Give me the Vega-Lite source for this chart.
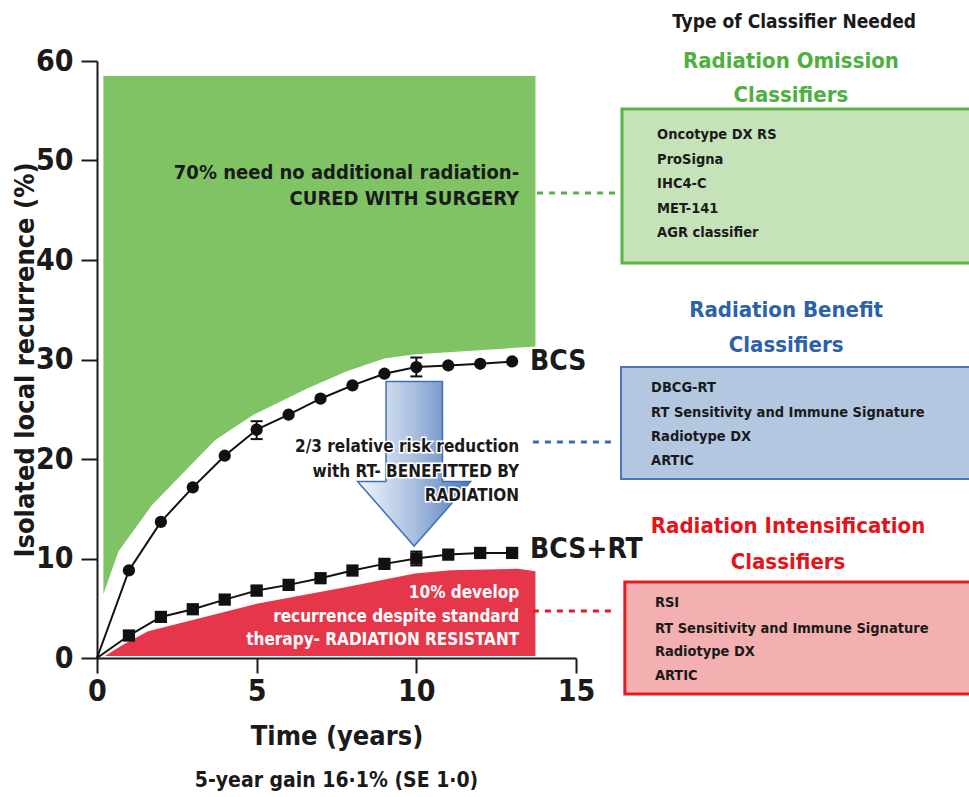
{
  "$schema": "https://vega.github.io/schema/vega-lite/v6.json",
  "autosize": {"type": "none"},
  "width": 479,
  "height": 597,
  "padding": {"left": 97, "top": 61, "right": 393, "bottom": 139},
  "background": "white",
  "config": {
    "view": {"stroke": null},
    "font": "DejaVu Sans Condensed",
    "text": {"font": "DejaVu Sans Condensed", "fontWeight": "bold"},
    "axisX": {"labelFontSize": 30, "labelFont": "DejaVu Sans Condensed", "labelFontWeight": "bold", "labelColor": "#1a1a1a", "tickSize": 15, "tickWidth": 2, "tickColor": "#1a1a1a", "domainColor": "#1a1a1a", "domainWidth": 2, "labelPadding": 3, "titleFont": "DejaVu Sans Condensed", "titleFontSize": 27, "titleFontWeight": "bold", "titleColor": "#1a1a1a", "titlePadding": 17, "grid": false, "labelFlush": false},
    "axisY": {"labelFontSize": 30, "labelFont": "DejaVu Sans Condensed", "labelFontWeight": "bold", "labelColor": "#1a1a1a", "tickSize": 16, "tickWidth": 2, "tickColor": "#1a1a1a", "domainColor": "#1a1a1a", "domainWidth": 2, "labelPadding": 8, "titleFont": "DejaVu Sans Condensed", "titleFontSize": 27, "titleFontWeight": "bold", "titleColor": "#1a1a1a", "titlePadding": -4, "grid": false, "labelFlush": false}
  },
  "layer": [
    {
      "data": {"values": [
        {"x": 0.2, "y": 58.5, "y2": 6.4},
        {"x": 0.67, "y": 58.5, "y2": 10.7},
        {"x": 1.73, "y": 58.5, "y2": 15.4},
        {"x": 3.7, "y": 58.5, "y2": 21.9},
        {"x": 4.9, "y": 58.5, "y2": 24.45},
        {"x": 6.6, "y": 58.5, "y2": 27.1},
        {"x": 7.8, "y": 58.5, "y2": 28.8},
        {"x": 9.0, "y": 58.5, "y2": 30.1},
        {"x": 9.9, "y": 58.5, "y2": 30.5},
        {"x": 13.73, "y": 58.5, "y2": 31.3}
      ]},
      "mark": {"type": "area", "color": "#7fc365"},
      "encoding": {
        "x": {"field": "x", "type": "quantitative", "scale": {"domain": [0, 15], "nice": false}, "axis": {"values": [0, 5, 10, 15], "title": "Time (years)"}},
        "y": {"field": "y", "type": "quantitative", "scale": {"domain": [0, 60], "nice": false}, "axis": {"values": [0, 10, 20, 30, 40, 50, 60], "title": "Isolated local recurrence (%)"}},
        "y2": {"field": "y2"}
      }
    },
    {
      "data": {"values": [
        {"x": 0.25, "y": 0.2, "y2": 0.2},
        {"x": 0.8, "y": 1.3, "y2": 0.2},
        {"x": 1.6, "y": 2.7, "y2": 0.2},
        {"x": 5.0, "y": 5.44, "y2": 0.2},
        {"x": 7.86, "y": 7.15, "y2": 0.2},
        {"x": 9.96, "y": 8.49, "y2": 0.2},
        {"x": 11.07, "y": 8.82, "y2": 0.2},
        {"x": 13.18, "y": 8.96, "y2": 0.2},
        {"x": 13.73, "y": 8.72, "y2": 0.2}
      ]},
      "mark": {"type": "area", "color": "#e63649"},
      "encoding": {
        "x": {"field": "x", "type": "quantitative"},
        "y": {"field": "y", "type": "quantitative"},
        "y2": {"field": "y2"}
      }
    },
    {
      "data": {"values": [
        {"x": 8.16, "y": 17.75, "y2": 17.75},
        {"x": 9.05, "y": 17.75, "y2": 14.48},
        {"x": 9.052, "y": 27.8, "y2": 14.47},
        {"x": 9.93, "y": 27.8, "y2": 11.25},
        {"x": 10.818, "y": 27.8, "y2": 14.47},
        {"x": 10.82, "y": 17.75, "y2": 14.48},
        {"x": 11.7, "y": 17.75, "y2": 17.75}
      ]},
      "mark": {"type": "area", "fill": {"gradient": "linear", "x1": 0, "y1": 0, "x2": 1, "y2": 0, "stops": [{"offset": 0, "color": "#f2f5fb"}, {"offset": 0.5, "color": "#a9bfdf"}, {"offset": 1, "color": "#4a78ba"}]}, "fillOpacity": 1, "stroke": "#3f6fb5", "strokeWidth": 1.5},
      "encoding": {
        "x": {"field": "x", "type": "quantitative"},
        "y": {"field": "y", "type": "quantitative"},
        "y2": {"field": "y2"}
      }
    },
    {
      "data": {"values": [
        {"x": 0, "y": 0}, {"x": 1, "y": 8.8}, {"x": 2, "y": 13.68}, {"x": 3, "y": 17.15}, {"x": 4, "y": 20.33},
        {"x": 5, "y": 22.95}, {"x": 6, "y": 24.45}, {"x": 7, "y": 26.06}, {"x": 8, "y": 27.4}, {"x": 9, "y": 28.57},
        {"x": 10, "y": 29.24}, {"x": 11, "y": 29.4}, {"x": 12, "y": 29.57}, {"x": 13, "y": 29.8}
      ]},
      "layer": [
        {"mark": {"type": "line", "color": "#111111", "strokeWidth": 2}, "encoding": {"x": {"field": "x", "type": "quantitative"}, "y": {"field": "y", "type": "quantitative"}}},
        {"transform": [{"filter": "datum.x > 0"}], "mark": {"type": "point", "shape": "circle", "filled": true, "opacity": 1, "color": "#111111", "size": 150}, "encoding": {"x": {"field": "x", "type": "quantitative"}, "y": {"field": "y", "type": "quantitative"}}}
      ]
    },
    {
      "data": {"values": [
        {"x": 0, "y": 0}, {"x": 1, "y": 2.26}, {"x": 2, "y": 4.13}, {"x": 3, "y": 4.9}, {"x": 4, "y": 5.87},
        {"x": 5, "y": 6.78}, {"x": 6, "y": 7.35}, {"x": 7, "y": 8.02}, {"x": 8, "y": 8.79}, {"x": 9, "y": 9.46},
        {"x": 10, "y": 10.0}, {"x": 11, "y": 10.39}, {"x": 12, "y": 10.56}, {"x": 13, "y": 10.56}
      ]},
      "layer": [
        {"mark": {"type": "line", "color": "#111111", "strokeWidth": 2}, "encoding": {"x": {"field": "x", "type": "quantitative"}, "y": {"field": "y", "type": "quantitative"}}},
        {"transform": [{"filter": "datum.x > 0"}], "mark": {"type": "point", "shape": "square", "filled": true, "opacity": 1, "color": "#111111", "size": 150}, "encoding": {"x": {"field": "x", "type": "quantitative"}, "y": {"field": "y", "type": "quantitative"}}}
      ]
    },
    {
      "data": {"values": [
        {"x": 5, "lo": 22.0, "hi": 23.8},
        {"x": 10, "lo": 28.3, "hi": 30.2},
        {"x": 5, "lo": 6.3, "hi": 7.2},
        {"x": 10, "lo": 9.3, "hi": 10.7}
      ]},
      "layer": [
        {"mark": {"type": "rule", "color": "#111111", "strokeWidth": 2}, "encoding": {"x": {"field": "x", "type": "quantitative"}, "y": {"field": "lo", "type": "quantitative"}, "y2": {"field": "hi"}}},
        {"mark": {"type": "tick", "orient": "horizontal", "color": "#111111", "size": 12, "thickness": 2, "opacity": 1}, "encoding": {"x": {"field": "x", "type": "quantitative"}, "y": {"field": "lo", "type": "quantitative"}}},
        {"mark": {"type": "tick", "orient": "horizontal", "color": "#111111", "size": 12, "thickness": 2, "opacity": 1}, "encoding": {"x": {"field": "x", "type": "quantitative"}, "y": {"field": "hi", "type": "quantitative"}}}
      ]
    },
    {
      "data": {"values": [
        {"x": 13.22, "y": 48.74, "text": "70% need no additional radiation-"},
        {"x": 13.22, "y": 46.13, "text": "CURED WITH SURGERY"}
      ]},
      "mark": {"type": "text", "align": "right", "baseline": "middle", "fontSize": 20, "color": "#1a1a1a"},
      "encoding": {"x": {"field": "x", "type": "quantitative"}, "y": {"field": "y", "type": "quantitative"}, "text": {"field": "text"}}
    },
    {
      "data": {"values": [
        {"x": 13.22, "y": 21.21, "text": "2/3 relative risk reduction"},
        {"x": 13.22, "y": 18.69, "text": "with RT- BENEFITTED BY"},
        {"x": 13.22, "y": 16.28, "text": "RADIATION"}
      ]},
      "layer": [
        {"mark": {"type": "text", "align": "right", "baseline": "middle", "fontSize": 17, "color": "white", "stroke": "white", "strokeWidth": 3}, "encoding": {"x": {"field": "x", "type": "quantitative"}, "y": {"field": "y", "type": "quantitative"}, "text": {"field": "text"}}},
        {"mark": {"type": "text", "align": "right", "baseline": "middle", "fontSize": 17, "color": "#1a1a1a"}, "encoding": {"x": {"field": "x", "type": "quantitative"}, "y": {"field": "y", "type": "quantitative"}, "text": {"field": "text"}}}
      ]
    },
    {
      "data": {"values": [
        {"x": 13.22, "y": 6.53, "text": "10% develop"},
        {"x": 13.22, "y": 4.12, "text": "recurrence despite standard"},
        {"x": 13.22, "y": 1.81, "text": "therapy- RADIATION RESISTANT"}
      ]},
      "mark": {"type": "text", "align": "right", "baseline": "middle", "fontSize": 17, "color": "white"},
      "encoding": {"x": {"field": "x", "type": "quantitative"}, "y": {"field": "y", "type": "quantitative"}, "text": {"field": "text"}}
    },
    {
      "data": {"values": [
        {"x": 13.56, "y": 29.75, "text": "BCS"},
        {"x": 13.56, "y": 10.85, "text": "BCS+RT"}
      ]},
      "mark": {"type": "text", "align": "left", "baseline": "middle", "fontSize": 28, "color": "#1a1a1a"},
      "encoding": {"x": {"field": "x", "type": "quantitative"}, "y": {"field": "y", "type": "quantitative"}, "text": {"field": "text"}}
    },
    {
      "data": {"values": [
        {"x": 7.5, "y": -12.4, "text": "5-year gain 16·1% (SE 1·0)"}
      ]},
      "mark": {"type": "text", "align": "center", "baseline": "middle", "fontSize": 21, "color": "#1a1a1a"},
      "encoding": {"x": {"field": "x", "type": "quantitative"}, "y": {"field": "y", "type": "quantitative"}, "text": {"field": "text"}}
    },
    {
      "data": {"values": [
        {"x": 16.44, "x2": 27.5, "y": 55.18, "y2": 39.7, "g": "omission"}
      ]},
      "mark": {"type": "rect", "fill": "#c5e2b9", "stroke": "#5cb345", "strokeWidth": 3},
      "encoding": {"x": {"field": "x", "type": "quantitative"}, "x2": {"field": "x2"}, "y": {"field": "y", "type": "quantitative"}, "y2": {"field": "y2"}}
    },
    {
      "data": {"values": [
        {"x": 16.41, "x2": 27.5, "y": 29.25, "y2": 17.99, "g": "benefit"}
      ]},
      "mark": {"type": "rect", "fill": "#b4c7e1", "stroke": "#4a76b8", "strokeWidth": 2},
      "encoding": {"x": {"field": "x", "type": "quantitative"}, "x2": {"field": "x2"}, "y": {"field": "y", "type": "quantitative"}, "y2": {"field": "y2"}}
    },
    {
      "data": {"values": [
        {"x": 16.53, "x2": 27.5, "y": 7.64, "y2": -3.62, "g": "intensification"}
      ]},
      "mark": {"type": "rect", "fill": "#f4b0b0", "stroke": "#e11b22", "strokeWidth": 3},
      "encoding": {"x": {"field": "x", "type": "quantitative"}, "x2": {"field": "x2"}, "y": {"field": "y", "type": "quantitative"}, "y2": {"field": "y2"}}
    },
    {
      "data": {"values": [{"x": 13.78, "x2": 16.38, "y": 46.73}]},
      "mark": {"type": "rule", "color": "#58b146", "strokeWidth": 3, "strokeDash": [6, 6]},
      "encoding": {"x": {"field": "x", "type": "quantitative"}, "x2": {"field": "x2"}, "y": {"field": "y", "type": "quantitative"}}
    },
    {
      "data": {"values": [{"x": 13.65, "x2": 16.16, "y": 21.71}]},
      "mark": {"type": "rule", "color": "#3a6cb5", "strokeWidth": 3, "strokeDash": [6, 6]},
      "encoding": {"x": {"field": "x", "type": "quantitative"}, "x2": {"field": "x2"}, "y": {"field": "y", "type": "quantitative"}}
    },
    {
      "data": {"values": [{"x": 13.65, "x2": 16.28, "y": 4.72}]},
      "mark": {"type": "rule", "color": "#e01c24", "strokeWidth": 3, "strokeDash": [6, 6]},
      "encoding": {"x": {"field": "x", "type": "quantitative"}, "x2": {"field": "x2"}, "y": {"field": "y", "type": "quantitative"}}
    },
    {
      "data": {"values": [{"x": 21.83, "y": 63.92, "text": "Type of Classifier Needed"}]},
      "mark": {"type": "text", "align": "center", "baseline": "middle", "fontSize": 19, "color": "#1a1a1a"},
      "encoding": {"x": {"field": "x", "type": "quantitative"}, "y": {"field": "y", "type": "quantitative"}, "text": {"field": "text"}}
    },
    {
      "data": {"values": [
        {"x": 21.73, "y": 60.0, "text": "Radiation Omission"},
        {"x": 21.73, "y": 56.58, "text": "Classifiers"}
      ]},
      "mark": {"type": "text", "align": "center", "baseline": "middle", "fontSize": 22, "color": "#4faf3f"},
      "encoding": {"x": {"field": "x", "type": "quantitative"}, "y": {"field": "y", "type": "quantitative"}, "text": {"field": "text"}}
    },
    {
      "data": {"values": [
        {"x": 21.58, "y": 34.97, "text": "Radiation Benefit"},
        {"x": 21.58, "y": 31.46, "text": "Classifiers"}
      ]},
      "mark": {"type": "text", "align": "center", "baseline": "middle", "fontSize": 22, "color": "#2c62a9"},
      "encoding": {"x": {"field": "x", "type": "quantitative"}, "y": {"field": "y", "type": "quantitative"}, "text": {"field": "text"}}
    },
    {
      "data": {"values": [
        {"x": 21.64, "y": 13.27, "text": "Radiation Intensification"},
        {"x": 21.64, "y": 9.65, "text": "Classifiers"}
      ]},
      "mark": {"type": "text", "align": "center", "baseline": "middle", "fontSize": 22, "color": "#e3151b"},
      "encoding": {"x": {"field": "x", "type": "quantitative"}, "y": {"field": "y", "type": "quantitative"}, "text": {"field": "text"}}
    },
    {
      "data": {"values": [
        {"x": 17.54, "y": 52.56, "text": "Oncotype DX RS"},
        {"x": 17.54, "y": 50.05, "text": "ProSigna"},
        {"x": 17.54, "y": 47.64, "text": "IHC4-C"},
        {"x": 17.54, "y": 45.13, "text": "MET-141"},
        {"x": 17.54, "y": 42.71, "text": "AGR classifier"},
        {"x": 17.35, "y": 27.14, "text": "DBCG-RT"},
        {"x": 17.35, "y": 24.62, "text": "RT Sensitivity and Immune Signature"},
        {"x": 17.35, "y": 22.21, "text": "Radiotype DX"},
        {"x": 17.35, "y": 19.8, "text": "ARTIC"},
        {"x": 17.47, "y": 5.53, "text": "RSI"},
        {"x": 17.47, "y": 2.91, "text": "RT Sensitivity and Immune Signature"},
        {"x": 17.47, "y": 0.6, "text": "Radiotype DX"},
        {"x": 17.47, "y": -1.81, "text": "ARTIC"}
      ]},
      "mark": {"type": "text", "align": "left", "baseline": "middle", "fontSize": 14.5, "color": "#1a1a1a"},
      "encoding": {"x": {"field": "x", "type": "quantitative"}, "y": {"field": "y", "type": "quantitative"}, "text": {"field": "text"}}
    }
  ]
}
